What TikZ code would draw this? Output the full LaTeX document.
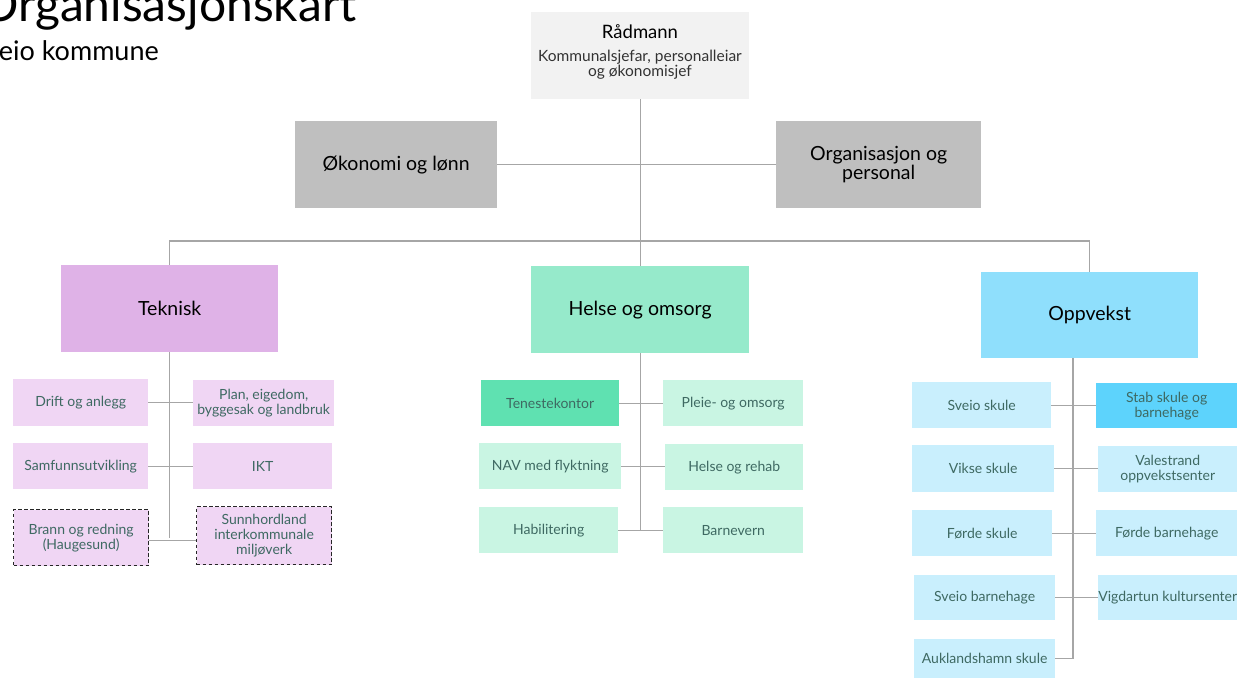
\documentclass[tikz,border=0pt]{standalone}
\usepackage{fontspec}
\setmainfont{Lato}
\usetikzlibrary{positioning}
\definecolor{radfill}{HTML}{F2F2F2}
\definecolor{grayfill}{HTML}{BFBFBF}
\definecolor{tekfill}{HTML}{DFB2E7}
\definecolor{tekchild}{HTML}{F0D6F4}
\definecolor{helfill}{HTML}{96EACB}
\definecolor{helchild}{HTML}{C9F5E3}
\definecolor{tenfill}{HTML}{5FE1B1}
\definecolor{oppfill}{HTML}{8FDFFC}
\definecolor{oppchild}{HTML}{C9EFFD}
\definecolor{stabfill}{HTML}{5DD3FC}
\definecolor{childtext}{HTML}{3E6962}
\definecolor{linecol}{HTML}{A6A6A6}
\tikzset{
  box/.style={inner sep=0pt, align=center, anchor=north west},
  headbox/.style={box, font=\fontsize{19.5}{19}\selectfont, text=black},
  childbox/.style={box, font=\fontsize{14}{15}\selectfont, text=childtext},
  dashbox/.style={childbox, draw=black!85, line width=1.3pt, dash pattern=on 3.5pt off 2.5pt},
  conn/.style={draw=linecol, line width=1.2pt},
}
\newcommand{\bx}[7]{%
  \node[#6, minimum width=#4pt-#2pt, minimum height=#5pt-#3pt] (#1) at (#2,#3) {#7};}
\begin{document}
\begin{tikzpicture}[x=1pt,y=-1pt]
\useasboundingbox (0,0) rectangle (1241,679);
\clip (0,0) rectangle (1241,679);
\fill[white] (0,0) rectangle (1241,679);
% titles
\node[anchor=base east, inner sep=0pt, font=\fontsize{48}{52}\selectfont] (title) at (357,22) {Organisasjonskart};
\node[anchor=base east, inner sep=0pt, font=\fontsize{27}{30}\selectfont] (sub) at (159,61) {Sveio kommune};
% top
\bx{rad}{531}{12}{749}{99}{box, fill=radfill}{}
\node[font=\fontsize{18.5}{20}\selectfont, inner sep=0pt, anchor=base] (radt) at (640,39) {Rådmann};
\node[font=\fontsize{15.5}{15}\selectfont, inner sep=0pt, align=center, anchor=north, text=black!80] (rads) at (640,50) {Kommunalsjefar, personalleiar\\og økonomisjef};
\bx{oko}{295}{121}{497}{208}{headbox, fill=grayfill}{Økonomi og lønn}
\bx{org}{776}{121}{981}{208}{headbox, fill=grayfill}{Organisasjon og\\personal}
% level 2
\bx{tek}{61}{265}{278}{352}{headbox, fill=tekfill}{Teknisk}
\bx{hel}{531}{266}{749}{353}{headbox, fill=helfill}{Helse og omsorg}
\bx{opp}{981}{272}{1198}{358}{headbox, fill=oppfill}{Oppvekst}
% Teknisk children
\bx{drift}{13}{379}{148}{426}{childbox, fill=tekchild}{Drift og anlegg}
\bx{plan}{193}{380}{334}{426}{childbox, fill=tekchild}{Plan, eigedom,\\byggesak og landbruk}
\bx{sam}{13}{443}{148}{489}{childbox, fill=tekchild}{Samfunnsutvikling}
\bx{ikt}{193}{443}{332}{489}{childbox, fill=tekchild}{IKT}
\bx{brann}{13}{509}{148}{565}{dashbox, fill=tekchild}{Brann og redning\\(Haugesund)}
\bx{sunn}{196}{506}{331}{564}{dashbox, fill=tekchild}{Sunnhordland\\interkommunale\\miljøverk}
% Helse children
\bx{ten}{481}{380}{619}{426}{childbox, fill=tenfill}{Tenestekontor}
\bx{pleie}{663}{380}{803}{426}{childbox, fill=helchild}{Pleie- og omsorg}
\bx{nav}{479}{443}{621}{489}{childbox, fill=helchild}{NAV med flyktning}
\bx{rehab}{665}{444}{803}{490}{childbox, fill=helchild}{Helse og rehab}
\bx{habil}{479}{507}{618}{553}{childbox, fill=helchild}{Habilitering}
\bx{barnev}{663}{507}{803}{553}{childbox, fill=helchild}{Barnevern}
% Oppvekst children
\bx{sveios}{912}{382}{1051}{428}{childbox, fill=oppchild}{Sveio skule}
\bx{stab}{1096}{383}{1237}{428}{childbox, fill=stabfill}{Stab skule og\\barnehage}
\bx{vikse}{912}{445}{1054}{492}{childbox, fill=oppchild}{Vikse skule}
\bx{vale}{1098}{446}{1237}{492}{childbox, fill=oppchild}{Valestrand\\oppvekstsenter}
\bx{fordes}{912}{510}{1052}{556}{childbox, fill=oppchild}{Førde skule}
\bx{fordeb}{1096}{510}{1237}{556}{childbox, fill=oppchild}{Førde barnehage}
\bx{sveiob}{914}{575}{1055}{620}{childbox, fill=oppchild}{Sveio barnehage}
\bx{vigd}{1098}{575}{1237}{620}{childbox, fill=oppchild}{Vigdartun kultursenter}
\bx{auk}{914}{639}{1055}{678}{childbox, fill=oppchild}{Auklandshamn skule}
% connectors top
\coordinate (bus) at (640,241);
\draw[conn] (rad.south) -- (hel.north);
\draw[conn] (oko.east) -- (org.west);
\draw[conn] (tek.north) |- (bus) -| (opp.north);
% Teknisk
\draw[conn] (tek.south) -- (tek.south |- brann.east);
\draw[conn] (drift.east) -- (drift.east -| plan.west);
\draw[conn] (sam.east) -- (sam.east -| ikt.west);
\draw[conn] ([yshift=-3pt]brann.east) -- ([yshift=-3pt]brann.east -| sunn.west);
% Helse
\draw[conn] (hel.south) -- (hel.south |- habil.east);
\draw[conn] (ten.east) -- (ten.east -| pleie.west);
\draw[conn] (nav.east) -- (nav.east -| rehab.west);
\draw[conn] (habil.east) -- (habil.east -| barnev.west);
% Oppvekst
\coordinate (otop) at (1073,358);
\draw[conn] (otop) -- (otop |- auk.east) -- (auk.east);
\draw[conn] (sveios.east) -- (sveios.east -| stab.west);
\draw[conn] (vikse.east) -- (vikse.east -| vale.west);
\draw[conn] (fordes.east) -- (fordes.east -| fordeb.west);
\draw[conn] (sveiob.east) -- (sveiob.east -| vigd.west);
\end{tikzpicture}
\end{document}
